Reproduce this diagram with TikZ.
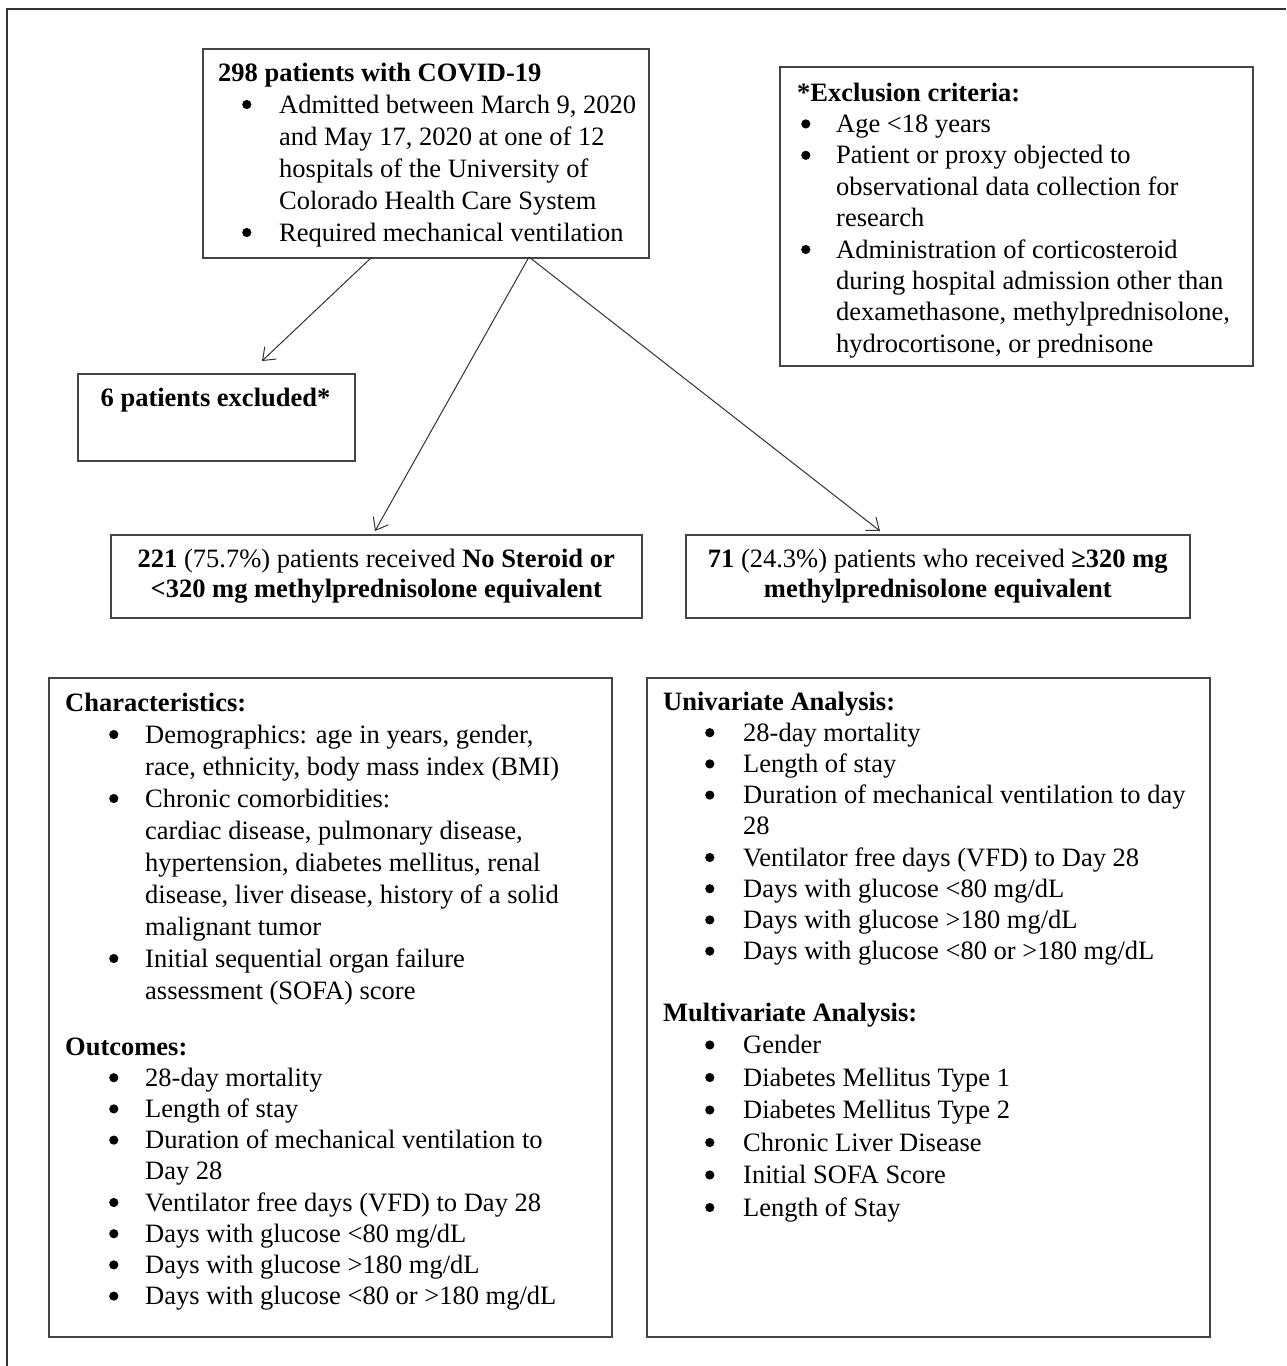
\documentclass[tikz,border=0pt]{standalone}
\usepackage{fontspec}
\setmainfont{Liberation Serif}
\usetikzlibrary{arrows.meta,calc}
\definecolor{bordergray}{HTML}{444444}
\definecolor{linegray}{HTML}{333333}
\tikzset{
  box/.style={draw=bordergray, line width=1.6pt, rectangle, inner sep=0pt, anchor=north west},
  txt/.style={inner sep=0pt, anchor=base west, text=black},
  conn/.style={draw=linegray, line width=1pt, -{Straight Barb[length=11pt,width=17pt,line width=1pt]}},
  framestyle/.style={draw=linegray, line width=2pt}
}
\newcommand{\bodyfont}{\fontsize{26.5}{32}\selectfont}
\newcommand{\bodyfontA}{\fontsize{26.5}{31.4}\selectfont}
\newcommand{\bodyfontB}{\fontsize{26.5}{31.2}\selectfont}
\newcommand{\bodyfontC}{\fontsize{26.5}{32.5}\selectfont}
\newcommand{\grpfont}{\fontsize{26.5}{29.5}\selectfont}
\newcommand{\bul}{\tikz[baseline=0pt]{\fill[black] (4.6pt,8.5pt) circle[radius=4.6pt];}}
\begin{document}
\begin{tikzpicture}[x=1pt,y=-1pt]
\useasboundingbox (0,0) rectangle (1286,1366);
\fill[white] (0,0) rectangle (1286,1366);
% outer frame (top and left edges visible)
\draw[framestyle] (7,1366) -- (7,9) -- (1286,9);

% boxes
\node[box, minimum width=446pt, minimum height=209pt] (b1) at (202,48) {};
\node[box, minimum width=473pt, minimum height=299pt] (excl) at (779,66) {};
\node[box, minimum width=277pt, minimum height=87pt] (ex6) at (77,373) {};
\node[box, minimum width=531pt, minimum height=83pt, align=center, font=\grpfont] (g1) at (110,534)
  {\textbf{221} (75.7\%) patients received \textbf{No Steroid or}\\\textbf{<320 mg methylprednisolone equivalent}};
\node[box, minimum width=504pt, minimum height=83pt, align=center, font=\grpfont] (g2) at (685,534)
  {\textbf{71} (24.3\%) patients who received \textbf{≥320 mg}\\\textbf{methylprednisolone equivalent}};
\node[box, minimum width=563pt, minimum height=659pt] (char) at (48,677) {};
\node[box, minimum width=563pt, minimum height=659pt] (univ) at (646,677) {};

% texts
\node[txt] (t1) at (218,81) {\bodyfont\begin{tabular}[t]{@{}p{24pt}@{}p{37pt}@{}l@{}}
\multicolumn{3}{@{}l@{}}{\textbf{298 patients with COVID-19}}\\
& \bul & Admitted between March 9, 2020\\
& & and May 17, 2020 at one of 12\\
& & hospitals of the University of\\
& & Colorado Health Care System\\
& \bul & Required mechanical ventilation
\end{tabular}};

\node[txt] (tex) at (797,101) {\bodyfontA\begin{tabular}[t]{@{}p{4pt}@{}p{35pt}@{}l@{}}
\multicolumn{3}{@{}l@{}}{\textbf{*Exclusion criteria:}}\\
& \bul & Age <18 years\\
& \bul & Patient or proxy objected to\\
& & observational data collection for\\
& & research\\
& \bul & Administration of corticosteroid\\
& & during hospital admission other than\\
& & dexamethasone, methylprednisolone,\\
& & hydrocortisone, or prednisone
\end{tabular}};

\node[inner sep=0pt, anchor=base, font=\bodyfont] (t6) at (215.5,406) {\textbf{6 patients excluded*}};

\node[txt] (tch) at (65,711) {\bodyfont\begin{tabular}[t]{@{}p{44pt}@{}p{36pt}@{}l@{}}
\multicolumn{3}{@{}l@{}}{\textbf{Characteristics:}}\\
& \bul & Demographics: age in years, gender,\\
& & race, ethnicity, body mass index (BMI)\\
& \bul & Chronic comorbidities:\\
& & cardiac disease, pulmonary disease,\\
& & hypertension, diabetes mellitus, renal\\
& & disease, liver disease, history of a solid\\
& & malignant tumor\\
& \bul & Initial sequential organ failure\\
& & assessment (SOFA) score
\end{tabular}};

\node[txt] (tout) at (65,1055) {\bodyfontB\begin{tabular}[t]{@{}p{44pt}@{}p{36pt}@{}l@{}}
\multicolumn{3}{@{}l@{}}{\textbf{Outcomes:}}\\
& \bul & 28-day mortality\\
& \bul & Length of stay\\
& \bul & Duration of mechanical ventilation to\\
& & Day 28\\
& \bul & Ventilator free days (VFD) to Day 28\\
& \bul & Days with glucose <80 mg/dL\\
& \bul & Days with glucose >180 mg/dL\\
& \bul & Days with glucose <80 or >180 mg/dL
\end{tabular}};

\node[txt] (tun) at (663,710) {\bodyfontB\begin{tabular}[t]{@{}p{42pt}@{}p{38pt}@{}l@{}}
\multicolumn{3}{@{}l@{}}{\textbf{Univariate Analysis:}}\\
& \bul & 28-day mortality\\
& \bul & Length of stay\\
& \bul & Duration of mechanical ventilation to day\\
& & 28\\
& \bul & Ventilator free days (VFD) to Day 28\\
& \bul & Days with glucose <80 mg/dL\\
& \bul & Days with glucose >180 mg/dL\\
& \bul & Days with glucose <80 or >180 mg/dL
\end{tabular}};

\node[txt] (tmv) at (663,1021) {\bodyfontC\begin{tabular}[t]{@{}p{42pt}@{}p{38pt}@{}l@{}}
\multicolumn{3}{@{}l@{}}{\textbf{Multivariate Analysis:}}\\
& \bul & Gender\\
& \bul & Diabetes Mellitus Type 1\\
& \bul & Diabetes Mellitus Type 2\\
& \bul & Chronic Liver Disease\\
& \bul & Initial SOFA Score\\
& \bul & Length of Stay
\end{tabular}};

% connectors
\coordinate (s1) at (372,257);
\coordinate (s2) at (529,257);
\coordinate (e1) at (262,361);
\coordinate (e2) at (375,531);
\coordinate (e3) at (880,531);
\draw[conn] (s1) -- (e1);
\draw[conn] (s2) -- (e2);
\draw[conn] (s2) -- (e3);
\end{tikzpicture}
\end{document}
